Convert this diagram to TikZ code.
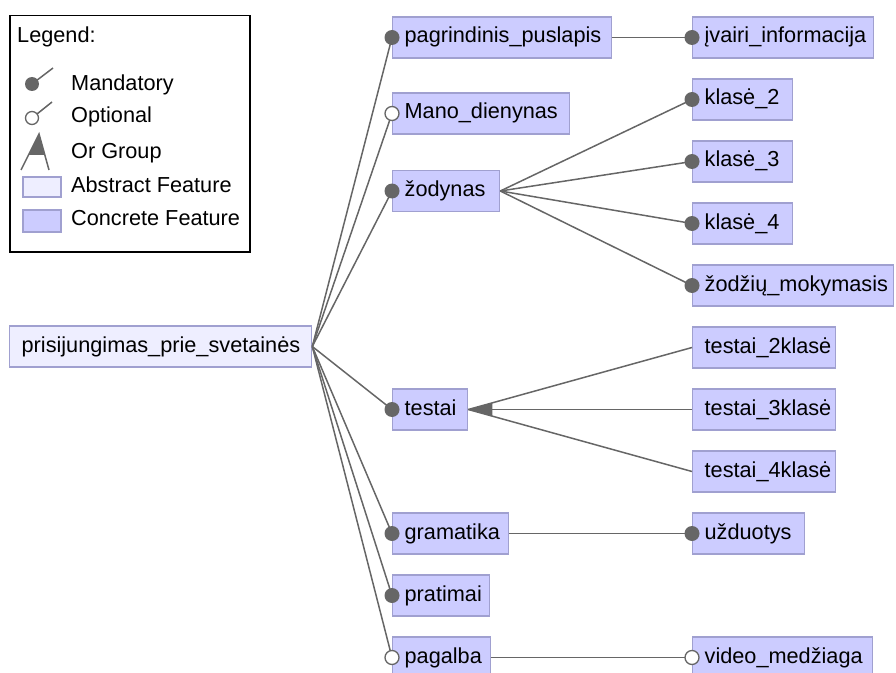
\documentclass[tikz,border=0pt]{standalone}
\usepackage{fontspec}
\setmainfont{Liberation Sans}
\usetikzlibrary{calc}
\definecolor{concretefill}{HTML}{CCCCFF}
\definecolor{abstractfill}{HTML}{EEEEFF}
\definecolor{featborder}{HTML}{A0A0D0}
\definecolor{linegray}{HTML}{666666}

\begin{document}
\begin{tikzpicture}[x=1bp,y=-1bp,
  every node/.style={font=\fontsize{21.7bp}{26bp}\selectfont},
  feat/.style={draw=featborder, line width=1.3bp, fill=concretefill, inner sep=0pt,
    minimum height=41bp, text height=15.5bp, text depth=4.5bp, anchor=west},
  abstractfeat/.style={feat, fill=abstractfill},
  edge/.style={draw=linegray, line width=1.5bp},
  mand/.style={fill=linegray},
  opt/.style={fill=white, draw=linegray, line width=1.3bp},
  legtext/.style={anchor=west, inner sep=0pt, text height=15.5bp, text depth=4.5bp},
]
\useasboundingbox (0,0) rectangle (896,673);

% ---- legend ----
\node[draw=black, line width=1.5bp, minimum width=240bp, minimum height=236bp,
      anchor=north west, inner sep=0pt] (legend) at (9,15) {};
\node[legtext] (legtitle) at (17,37) {Legend:};
\node[legtext] (legmand) at (71,85) {Mandatory};
\node[legtext] (legopt) at (71,117) {Optional};
\node[legtext] (legor) at (71,153) {Or Group};
\node[legtext] (legabs) at (71,187) {Abstract Feature};
\node[legtext] (legcon) at (71,220) {Concrete Feature};
\draw[edge] (32,84) -- (53,68);
\fill[mand] (32,84) circle (7bp);
\draw[edge] (32,118) -- (52,102);
\filldraw[opt] (32,118) circle (6.5bp);
\draw[edge] (21,170) -- (39,134) -- (49,170);
\fill[linegray] (39,134) -- (28.5,155) -- (45,155) -- cycle;
\filldraw[draw=featborder, line width=1.3bp, fill=abstractfill] (23,177) rectangle (61,197);
\filldraw[draw=featborder, line width=1.3bp, fill=concretefill] (23,210) rectangle (61,232);

% ---- feature boxes ----
\node[abstractfeat] (root) at (9,346.5) {\makebox[302bp][l]{\hspace{12bp}prisijungimas\_prie\_svetainės}};

\node[feat] (pag)  at (392,37.5)  {\makebox[219bp][l]{\hspace{12bp}pagrindinis\_puslapis}};
\node[feat] (mano) at (392,113.5) {\makebox[177bp][l]{\hspace{12bp}Mano\_dienynas}};
\node[feat] (zod)  at (392,191)   {\makebox[107bp][l]{\hspace{12bp}žodynas}};
\node[feat] (test) at (392,409.5) {\makebox[75bp][l]{\hspace{12bp}testai}};
\node[feat] (gram) at (392,533.5) {\makebox[116bp][l]{\hspace{12bp}gramatika}};
\node[feat] (prat) at (392,595.5) {\makebox[97bp][l]{\hspace{12bp}pratimai}};
\node[feat] (pagal) at (392,657.5) {\makebox[98bp][l]{\hspace{12bp}pagalba}};

\node[feat] (ivair) at (692,37.5)  {\makebox[181bp][l]{\hspace{12bp}įvairi\_informacija}};
\node[feat] (kl2)   at (692,99.5)  {\makebox[100bp][l]{\hspace{12bp}klasė\_2}};
\node[feat] (kl3)   at (692,161.5) {\makebox[100bp][l]{\hspace{12bp}klasė\_3}};
\node[feat] (kl4)   at (692,223.5) {\makebox[100bp][l]{\hspace{12bp}klasė\_4}};
\node[feat] (zm)    at (692,285.5) {\makebox[201bp][l]{\hspace{12bp}žodžių\_mokymasis}};
\node[feat] (t2)    at (692,347.5) {\makebox[143bp][l]{\hspace{12bp}testai\_2klasė}};
\node[feat] (t3)    at (692,409.5) {\makebox[143bp][l]{\hspace{12bp}testai\_3klasė}};
\node[feat] (t4)    at (692,471.5) {\makebox[143bp][l]{\hspace{12bp}testai\_4klasė}};
\node[feat] (uzd)   at (692,533.5) {\makebox[112bp][l]{\hspace{12bp}užduotys}};
\node[feat] (vid)   at (692,657.5) {\makebox[180bp][l]{\hspace{12bp}video\_medžiaga}};

% ---- connectors ----
\foreach \c in {pag,mano,zod,test,gram,prat,pagal}
  \draw[edge] (root.east) -- (\c.west);
\draw[edge] (pag.east) -- (ivair.west);
\foreach \c in {kl2,kl3,kl4,zm}
  \draw[edge] (zod.east) -- (\c.west);
\foreach \c in {t2,t3,t4}
  \draw[edge] (test.east) -- (\c.west);
\draw[edge] (gram.east) -- (uzd.west);
\draw[edge] (pagal.east) -- (vid.west);

% or-group wedge
\fill[linegray] (test.east) -- ($(test.east)!25bp!(t2.west)$) -- ($(test.east)!25bp!(t4.west)$) -- cycle;

% mandatory / optional markers
\foreach \c in {pag,zod,test,gram,prat,ivair,kl2,kl3,kl4,zm,uzd}
  \fill[mand] (\c.west) circle (7.5bp);
\foreach \c in {mano,pagal,vid}
  \filldraw[opt] (\c.west) circle (7bp);
\end{tikzpicture}
\end{document}
